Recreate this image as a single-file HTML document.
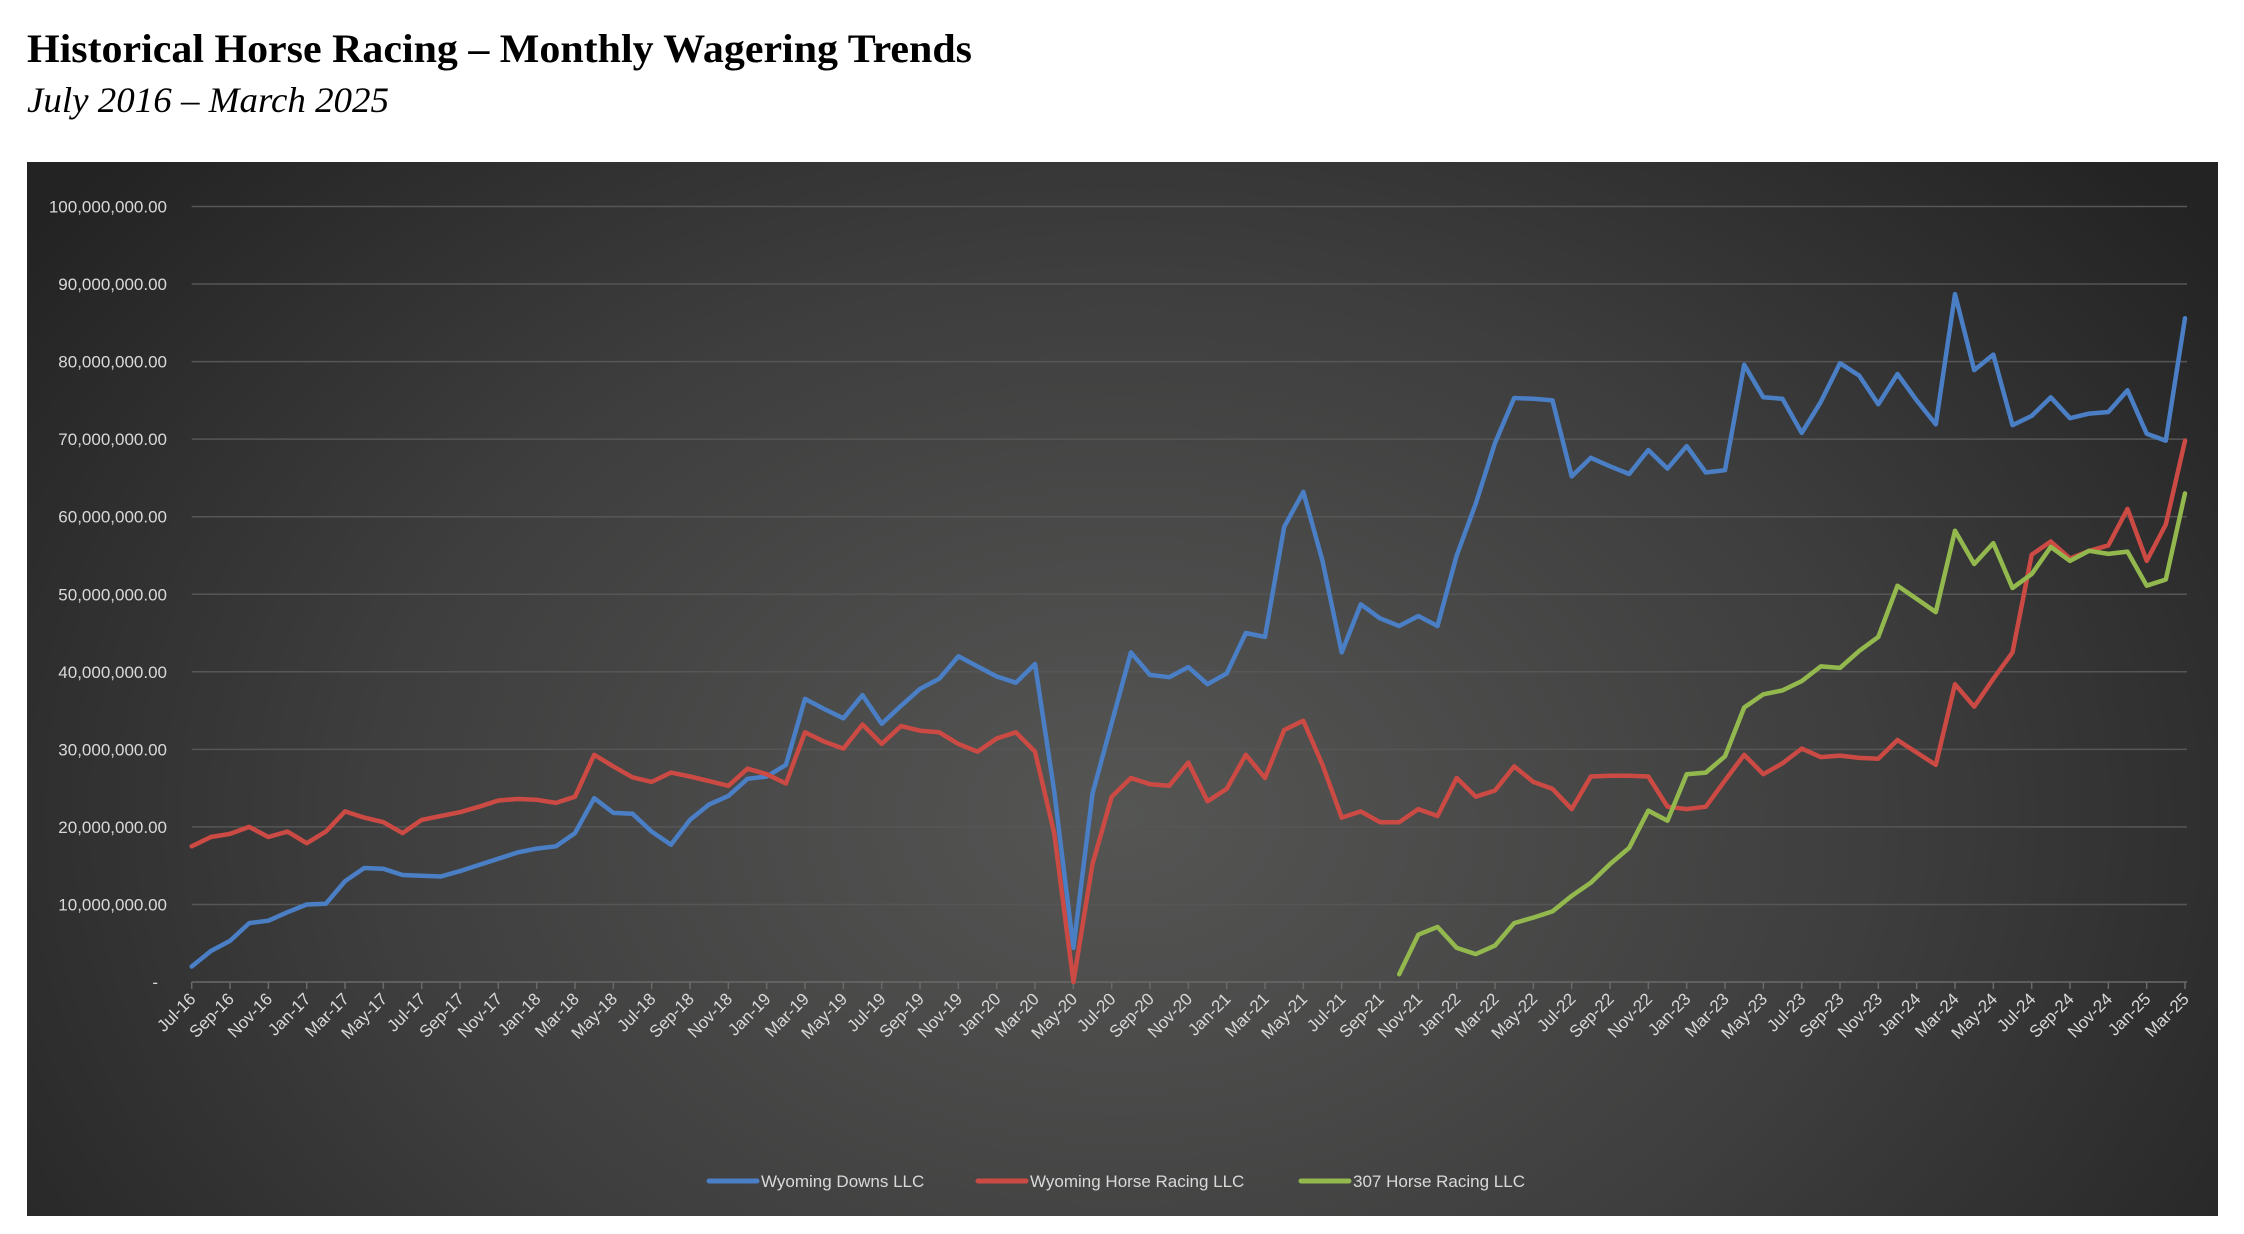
<!DOCTYPE html>
<html>
<head>
<meta charset="utf-8">
<style>
  html,body{margin:0;padding:0;background:#fff;}
  body{width:2244px;height:1234px;overflow:hidden;}
  svg{display:block;}
</style>
</head>
<body>
<svg id="chart" width="2244" height="1234" viewBox="0 0 2244 1234" xmlns="http://www.w3.org/2000/svg">
  <defs>
    <radialGradient id="bg" cx="0.5" cy="0.62" r="0.62" gradientTransform="translate(0.5 0.62) scale(1 1.5) translate(-0.5 -0.62)">
      <stop offset="0" stop-color="#555654"/>
      <stop offset="0.55" stop-color="#3e3e3e"/>
      <stop offset="1" stop-color="#232323"/>
    </radialGradient>
  </defs>
  <text x="27" y="62" font-family="'Liberation Serif', serif" font-weight="bold" font-size="40" fill="#000" textLength="945" lengthAdjust="spacingAndGlyphs">Historical Horse Racing – Monthly Wagering Trends</text>
  <text x="27" y="112" font-family="'Liberation Serif', serif" font-style="italic" font-size="36" fill="#000" textLength="362" lengthAdjust="spacingAndGlyphs">July 2016 – March 2025</text>
  <rect x="27" y="162" width="2191" height="1054" fill="url(#bg)"/>
  <g id="grid"></g>
  <g id="yaxis"></g>
  <g id="xaxis"></g>
  <g id="series"></g>
  <g id="legend"></g>
</svg>
<script>
const startYear = 2016, startMonth = 6; // Jul-16
const yTicks = [0,10,20,30,40,50,60,70,80,90,100];
const seriesNames = ["Wyoming Downs LLC","Wyoming Horse Racing LLC","307 Horse Racing LLC"];
const seriesColors = ["#4a7fc6","#cc4a44","#93b94e"];
// values in millions
const wyomingDowns = [2.0,4.0,5.3,7.6,7.9,9.0,10.0,10.1,13.0,14.7,14.6,13.8,13.7,13.6,14.3,15.1,15.9,16.7,17.2,17.5,19.2,23.7,21.8,21.7,19.4,17.7,20.9,
22.9,24.0,26.2,26.5,28.0,36.5,35.2,34.0,37.0,33.3,35.6,37.8,39.1,42.0,40.7,39.4,38.6,41.0,24.6,4.4,24.3,33.4,42.5,39.6,39.3,40.6,
38.4,39.8,45.0,44.5,58.7,63.2,54.3,42.5,48.7,46.9,45.9,47.2,45.9,55.0,61.7,69.5,75.3,75.2,75.0,65.2,67.6,66.5,65.5,68.6,66.2,69.1,65.7,
66.0,79.6,75.4,75.2,70.8,74.8,79.8,78.2,74.5,78.4,75.0,71.9,88.7,78.9,80.9,71.8,73.0,75.4,72.7,73.3,73.5,76.3,70.7,69.8,85.6];
const wyomingHorseRacing = [17.5,18.7,19.1,20.0,18.7,19.4,17.9,19.4,22.0,21.2,20.6,19.2,20.9,21.4,21.9,22.6,23.4,23.6,23.5,23.1,23.9,29.3,27.8,26.4,25.8,27.0,26.5,
25.9,25.3,27.5,26.8,25.6,32.2,31.0,30.1,33.2,30.7,33.0,32.4,32.2,30.7,29.7,31.4,32.2,29.7,19.2,0.0,15.2,23.9,26.3,25.5,25.3,28.3,
23.3,24.9,29.3,26.3,32.5,33.7,28.0,21.2,22.0,20.6,20.6,22.3,21.4,26.3,23.9,24.7,27.8,25.8,24.9,22.3,26.5,26.6,26.6,26.5,22.6,22.3,22.6,
26.0,29.3,26.8,28.2,30.1,29.0,29.2,28.9,28.8,31.2,29.6,28.0,38.4,35.5,39.1,42.5,55.1,56.8,54.6,55.6,56.3,61.0,54.3,59.0,69.8];
const horseRacing307 = [null,null,null,null,null,null,null,null,null,null,null,null,null,null,null,null,null,null,null,null,null,null,null,null,null,null,null,
null,null,null,null,null,null,null,null,null,null,null,null,null,null,null,null,null,null,null,null,null,null,null,null,null,null,
null,null,null,null,null,null,null,null,null,null,1.0,6.1,7.1,4.4,3.6,4.7,7.6,8.3,9.1,11.1,12.8,15.2,17.3,22.1,20.8,26.8,27.0,
29.1,35.4,37.1,37.6,38.8,40.7,40.5,42.7,44.5,51.1,49.4,47.7,58.2,53.9,56.6,50.8,52.6,56.1,54.3,55.6,55.2,55.5,51.1,51.9,63.0];
const monthNames = ["Jan","Feb","Mar","Apr","May","Jun","Jul","Aug","Sep","Oct","Nov","Dec"];

const NS = "http://www.w3.org/2000/svg";
const X0 = 191.7, X1 = 2185, Y0 = 982, Y100 = 206.5;
const N = wyomingDowns.length;
function xPos(i){ return X0 + (X1 - X0) * i / (N - 1); }
function yPos(v){ return Y0 - (Y0 - Y100) * v / 100; }
function mk(tag, attrs){ const e = document.createElementNS(NS, tag); for (const k in attrs) e.setAttribute(k, attrs[k]); return e; }
function fmt(v){ return v === 0 ? "-" : (v*1000000).toLocaleString("en-US",{minimumFractionDigits:2,maximumFractionDigits:2}); }
function monthLabel(i){ const m = (startMonth + i) % 12; const y = startYear + Math.floor((startMonth + i) / 12); return monthNames[m] + "-" + String(y).slice(2); }

const grid = document.getElementById("grid");
const yaxis = document.getElementById("yaxis");
yTicks.forEach(t => {
  const y = yPos(t);
  const ln = mk("line", {x1: X0, x2: X1 + 2, y1: y, y2: y, stroke: t === 0 ? "#6a6a6a" : "#565656", "stroke-width": 1.5});
  
  
  grid.appendChild(ln);
  const tx = mk("text", {x: t === 0 ? 158 : 167, y: y + 6, "text-anchor": "end", "font-family": "'Liberation Sans', sans-serif", "font-size": 17, fill: "#d9d9d9"});
  tx.textContent = fmt(t);
  
  
  yaxis.appendChild(tx);
});

const xaxis = document.getElementById("xaxis");
for (let i = 0; i < N; i += 2) {
  const x = xPos(i);
  const tk = mk("line", {x1: x, x2: x, y1: Y0, y2: Y0 + 7, stroke: "#6a6a6a", "stroke-width": 1.5});
  
  
  xaxis.appendChild(tk);
  const tx = mk("text", {x: x + 5, y: Y0 + 18, "text-anchor": "end", "font-family": "'Liberation Sans', sans-serif", "font-size": 17, fill: "#d9d9d9", transform: "rotate(-45 " + (x + 5) + " " + (Y0 + 18) + ")"});
  tx.textContent = monthLabel(i);
  
  
  xaxis.appendChild(tx);
}

const seriesG = document.getElementById("series");
[wyomingDowns, wyomingHorseRacing, horseRacing307].forEach((arr, si) => {
  let d = "", pen = false;
  arr.forEach((v, i) => {
    if (v === null) { pen = false; return; }
    d += (pen ? "L" : "M") + xPos(i).toFixed(1) + "," + yPos(v).toFixed(1);
    pen = true;
  });
  const p = mk("path", {d: d, fill: "none", stroke: seriesColors[si], "stroke-width": 4.5, "stroke-linejoin": "round", "stroke-linecap": "round"});
  
  
  seriesG.appendChild(p);
});

const legend = document.getElementById("legend");
const legendX = [709, 978, 1301];
seriesNames.forEach((nm, si) => {
  const g = mk("g", {});
  
  
  const ln = mk("line", {x1: legendX[si], x2: legendX[si] + 48, y1: 1181, y2: 1181, stroke: seriesColors[si], "stroke-width": 5, "stroke-linecap": "round"});
  
  
  g.appendChild(ln);
  const tx = mk("text", {x: legendX[si] + 52, y: 1187, "font-family": "'Liberation Sans', sans-serif", "font-size": 17, fill: "#d9d9d9"});
  tx.textContent = nm;
  
  
  g.appendChild(tx);
  legend.appendChild(g);
});
</script>
</body>
</html>
